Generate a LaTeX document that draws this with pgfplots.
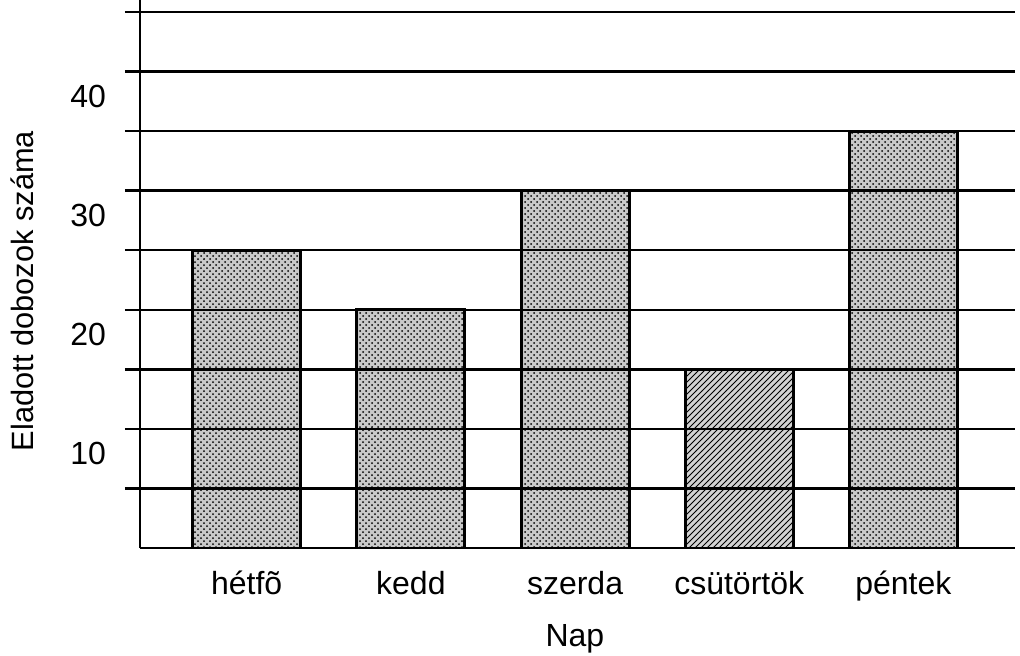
\documentclass[border=0pt]{standalone}
\usepackage{fontspec}
\setmainfont{Liberation Sans}
\usepackage{pgfplots}
\pgfplotsset{compat=1.18}
\usetikzlibrary{patterns}
\begin{document}
\begin{tikzpicture}
\useasboundingbox (-70pt,-53.5pt) rectangle (440pt,274pt);
\begin{axis}[
  at={(0,0)}, anchor=south west,
  scale only axis,
  width=437.5pt, height=274pt,
  xmin=-0.65, xmax=4.68,
  ymin=0, ymax=46,
  axis on top,
  axis x line*=bottom, axis y line*=left,
  axis line style={line width=1.2pt, -},
  xtick={0,1,2,3,4},
  xticklabels={hétfõ,kedd,szerda,csütörtök,péntek\hspace{13pt}},
  x tick style={draw=none},
  ytick={5,10,...,45},
  yticklabels={,10,,20,,30,,40,},
  ymajorgrids,
  major grid style={line width=1.2pt, black},
  y tick style={line width=1.2pt, black},
  tick align=outside,
  major tick length=7.5pt,
  tick label style={font=\fontsize{16pt}{18pt}\selectfont},
  /pgf/number format/assume math mode=true,
  xticklabel style={anchor=base, yshift=-15.5pt},
  yticklabel style={anchor=east, xshift=-6pt, yshift=-12.5pt},
  ylabel={Eladott dobozok száma},
  ylabel style={at={(axis description cs:-0.135,0.469)}, anchor=center, font=\fontsize{15.4pt}{17pt}\selectfont},
  xlabel={Nap},
  xlabel style={at={(axis description cs:0.497,0)}, anchor=base, yshift=-49pt, font=\fontsize{16pt}{18pt}\selectfont},
]
\addplot[ybar, bar width=54pt, draw=black, line width=1.5pt, fill=gray!42,
  postaction={pattern=crosshatch dots, pattern color=black}]
  coordinates {(0,25) (1,20) (2,30) (4,35)};
\addplot[ybar, bar width=54pt, draw=black, line width=1.5pt, fill=gray!35,
  postaction={pattern=north east lines, pattern color=black}]
  coordinates {(3,15)};
\end{axis}
\end{tikzpicture}
\end{document}
